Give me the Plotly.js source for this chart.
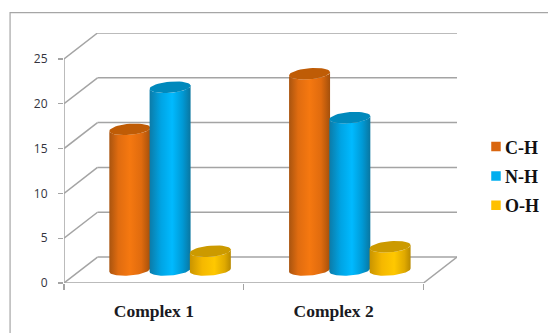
<!DOCTYPE html>
<html>
<head>
<meta charset="utf-8">
<script src="https://cdn.plot.ly/plotly-3.0.1.min.js"></script>
<style>html,body{margin:0;padding:0;background:#fff;overflow:hidden}</style>
</head>
<body>
<div id="chart" style="width:548px;height:333px"></div>
<script>
// Hydrogen-bond contributions per complex
const categories = ["Complex 1", "Complex 2"];
const seriesNames = ["C-H", "N-H", "O-H"];
const chValues = [15.7, 21.9];
const nhValues = [20.4, 17.0];
const ohValues = [2.1, 2.6];
const yTicks = [0, 5, 10, 15, 20, 25];

const seriesValues = [chValues, nhValues, ohValues];

// Oblique projection of the chart box, in axis units
const depthX = 0.1864, depthY = 2.895;
const barHalf = 0.114, barStep = 0.224, capRy = 0.62, capTilt = 0.18;
const xMax = categories.length + depthX;
const yMax = 27.895;

const palette = [
  {legend: "#d9660f", cap: "#bf5c06",
   body: [[0, "#a9540f"], [0.22, "#e06c10"], [0.5, "#f57810"], [0.78, "#e06b0e"], [1, "#a4500c"]]},
  {legend: "#00aeef", cap: "#0089bc",
   body: [[0, "#0c7ba8"], [0.28, "#00a4e4"], [0.55, "#00baff"], [0.8, "#009ad6"], [1, "#0a76a0"]]},
  {legend: "#ffc000", cap: "#cc9a00",
   body: [[0, "#c99400"], [0.3, "#f5b800"], [0.6, "#ffc800"], [0.85, "#e0aa00"], [1, "#b98a00"]]}
];

const traces = [];

// Walls and floor of the box
const wallX = [], wallY = [];
function segment(x0, y0, x1, y1) { wallX.push(x0, x1, null); wallY.push(y0, y1, null); }
yTicks.forEach(v => {
  segment(0, v, depthX, v + depthY);
  segment(depthX, v + depthY, xMax, v + depthY);
});
segment(0, 0, 0, yTicks[yTicks.length - 1]);
segment(0, 0, categories.length, 0);
segment(categories.length, 0, xMax, depthY);
traces.push({x: wallX, y: wallY, mode: "lines", line: {color: "#a4a4a4", width: 1.5},
             showlegend: false, hoverinfo: "skip"});

// One point on a sheared ellipse lying on the cylinder's base or top
function rim(cx, level, t) {
  return [cx + barHalf * Math.cos(t), level + capTilt * Math.cos(t) + capRy * Math.sin(t)];
}
function arc(cx, level, from, to) {
  const pts = [];
  for (let i = 0; i <= 40; i++) pts.push(rim(cx, level, from + (to - from) * i / 40));
  return pts;
}

// Cylinders: a shaded body with a flat cap on top
categories.forEach((cat, c) => {
  seriesNames.forEach((name, s) => {
    const cx = c + 0.497 + depthX / 2 + (s - 1) * barStep;
    const base = depthY / 2;
    const top = seriesValues[s][c] + depthY / 2;
    const body = arc(cx, base, Math.PI, 2 * Math.PI).concat(arc(cx, top, 2 * Math.PI, Math.PI));
    traces.push({
      x: body.map(p => p[0]), y: body.map(p => p[1]),
      mode: "lines", line: {width: 0}, fill: "toself",
      fillgradient: {type: "horizontal", colorscale: palette[s].body},
      showlegend: false, hoverinfo: "skip"
    });
    const cap = arc(cx, top, 0, 2 * Math.PI);
    traces.push({
      x: cap.map(p => p[0]), y: cap.map(p => p[1]),
      mode: "lines", line: {width: 0}, fill: "toself", fillcolor: palette[s].cap,
      showlegend: false, hoverinfo: "skip"
    });
  });
});

// Legend entries
seriesNames.forEach((name, s) => {
  traces.push({
    x: [null], y: [null], name: name, mode: "markers", legendgroup: name,
    marker: {symbol: "square", size: 9.5, color: palette[s].legend}
  });
});

const plotL = 63.5, plotR = 457, plotT = 33, plotB = 283.5;
const plotW = plotR - plotL, plotH = plotB - plotT;

const layout = {
  width: 548, height: 333,
  margin: {l: plotL, r: 548 - plotR, t: plotT, b: 333 - plotB, autoexpand: false},
  paper_bgcolor: "#ffffff", plot_bgcolor: "rgba(0,0,0,0)",
  showlegend: true,
  legend: {
    x: (465 - plotL) / plotW, y: 1 - (128.5 - plotT) / plotH,
    xanchor: "left", yanchor: "top", bgcolor: "rgba(0,0,0,0)",
    font: {family: "Liberation Serif", size: 18, weight: "bold", color: "#111111"},
    tracegroupgap: 3, traceorder: "grouped"
  },
  xaxis: {
    range: [0, xMax], showgrid: false, zeroline: false, showline: false, fixedrange: true,
    tickmode: "array", tickvals: categories.map((_, i) => i + 0.5), ticktext: categories,
    ticks: "", ticklabelstandoff: 15,
    tickfont: {family: "Liberation Serif", size: 17.5, weight: "bold", color: "#1a1a22"},
    minor: {tickmode: "array", tickvals: [0, 1, 2], ticks: "outside", ticklen: 6,
            tickcolor: "#a4a4a4", tickwidth: 1.2, showgrid: false}
  },
  yaxis: {
    range: [0, yMax], showgrid: false, zeroline: false, showline: false, fixedrange: true,
    tickmode: "array", tickvals: yTicks, ticks: "outside", ticklen: 5,
    tickcolor: "#a4a4a4", tickwidth: 1.2, ticklabelstandoff: 8,
    tickfont: {family: "Open Sans", size: 12, color: "#33333d"}
  },
  shapes: [{
    type: "rect", xref: "paper", yref: "paper", layer: "below",
    x0: (9.5 - plotL) / plotW, x1: (560 - plotL) / plotW,
    y0: (plotB - 345) / plotH, y1: (plotB - 12.5) / plotH,
    line: {color: "#a6a6a6", width: 1.2}, fillcolor: "rgba(0,0,0,0)"
  }]
};

Plotly.newPlot("chart", traces, layout, {displayModeBar: false, staticPlot: true}).then(gd => {
  // Bring the legend swatches closer to their labels
  gd.querySelectorAll(".legend .legendsymbols").forEach(g => {
    g.setAttribute("transform", "translate(11,0)");
  });
});
</script>
</body>
</html>
